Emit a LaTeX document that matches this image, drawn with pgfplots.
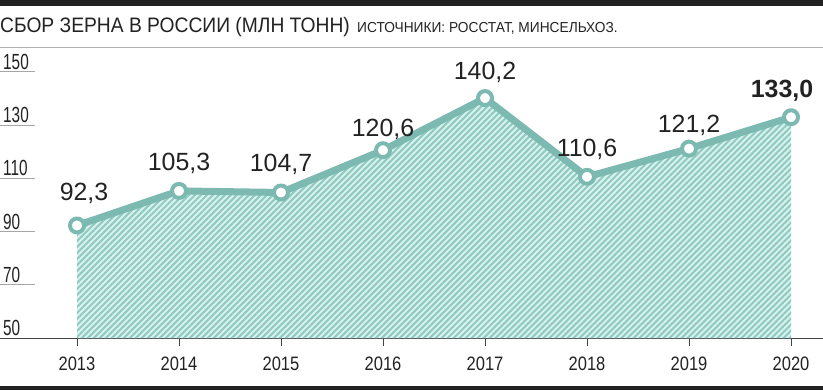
\documentclass[border=0pt]{standalone}
\usepackage{pgfplots}
\pgfplotsset{compat=1.18}
\usepackage{pgfplotstable}
\usepackage{fontspec}
\setmainfont{Liberation Sans}
\newfontfamily\titlefont[FakeStretch=0.92]{Liberation Sans}
\newfontfamily\srcfont[FakeStretch=0.95]{Liberation Sans}
\newfontfamily\ytfont[FakeStretch=0.7]{Liberation Sans}
\newfontfamily\xtfont[FakeStretch=0.85]{Liberation Sans}
\usetikzlibrary{patterns.meta}
\definecolor{teal1}{HTML}{7CB9B1}
\definecolor{hatchbg}{HTML}{DDF2EE}
\definecolor{hatchln}{HTML}{8ECCC3}
\definecolor{txt}{HTML}{222222}
\definecolor{axgray}{HTML}{444444}
\pgfplotstableread{
year val
2013 92.3
2014 105.3
2015 104.7
2016 120.6
2017 140.2
2018 110.6
2019 121.2
2020 133.0
}\grain
\begin{document}
\begin{tikzpicture}
\path[use as bounding box] (0bp,0bp) rectangle (823bp,390bp);
\fill[txt] (0bp,384bp) rectangle (823bp,390bp);
\fill[txt] (0bp,0bp) rectangle (823bp,3.5bp);
\draw[gray!60, line width=1bp] (0bp,342bp) -- (823bp,342bp);
\node[anchor=base west, inner sep=0pt, font=\titlefont\fontsize{21}{21}\selectfont, text=txt] at (0bp,357bp) {СБОР ЗЕРНА В РОССИИ (МЛН ТОНН)};
\node[anchor=base west, inner sep=0pt, font=\srcfont\fontsize{14.5}{14.5}\selectfont, text=txt] at (357bp,357bp) {ИСТОЧНИКИ: РОССТАТ, МИНСЕЛЬХОЗ.};
\begin{axis}[
  at={(0bp,52bp)}, anchor=south west,
  scale only axis, width=823bp, height=266bp,
  xmin=2012.2451, xmax=2020.3137, ymin=50, ymax=150,
  clip=false,
  axis x line*=bottom, axis y line*=left,
  y axis line style={draw=none},
  x axis line style={-, draw=axgray, line width=1bp},
  xtick={2013,2014,2015,2016,2017,2018,2019,2020},
  ytick={50,70,90,110,130,150},
  xtick style={draw=axgray, line width=1bp},
  ytick style={draw=none},
  tick align=outside,
  major tick length=8bp,
  /pgf/number format/assume math mode=true,
  /pgf/number format/1000 sep={},
  xticklabel style={anchor=base, inner sep=0pt, yshift=-24bp, font=\xtfont\fontsize{19.5}{19.5}\selectfont, text=txt},
  yticklabel style={anchor=base west, inner sep=0pt, xshift=11bp, yshift=2.5bp, font=\ytfont\fontsize{22}{22}\selectfont, text=txt},
]
\addplot[draw=none, fill=hatchbg, postaction={pattern={Lines[angle=45,distance=4.24bp,line width=2.1bp]}, pattern color=hatchln}] table[x=year,y=val]{\grain} \closedcycle;
\pgfplotsinvokeforeach{70,90,110,130,150}{
  \draw[gray!70, line width=1bp] (axis cs:2012.2451,#1) -- ++(35bp,0bp);
}
\addplot[teal1, line width=7bp, line join=round, mark=*, mark size=7bp, mark options={fill=white, draw=teal1, line width=4bp}] table[x=year,y=val]{\grain};
\begin{scope}[every node/.style={font=\fontsize{25}{25}\selectfont, text=txt, inner sep=0pt, anchor=center}]
\node[xshift=7bp, yshift=32bp] at (axis cs:2013,92.3) {92,3};
\node[yshift=28bp] at (axis cs:2014,105.3) {105,3};
\node[yshift=28bp] at (axis cs:2015,104.7) {104,7};
\node[yshift=21bp] at (axis cs:2016,120.6) {120,6};
\node[yshift=26bp] at (axis cs:2017,140.2) {140,2};
\node[yshift=27bp] at (axis cs:2018,110.6) {110,6};
\node[yshift=23bp] at (axis cs:2019,121.2) {121,2};
\node[xshift=-9bp, yshift=26bp, font=\bfseries\fontsize{25}{25}\selectfont] at (axis cs:2020,133.0) {133,0};
\end{scope}
\end{axis}
\end{tikzpicture}
\end{document}
